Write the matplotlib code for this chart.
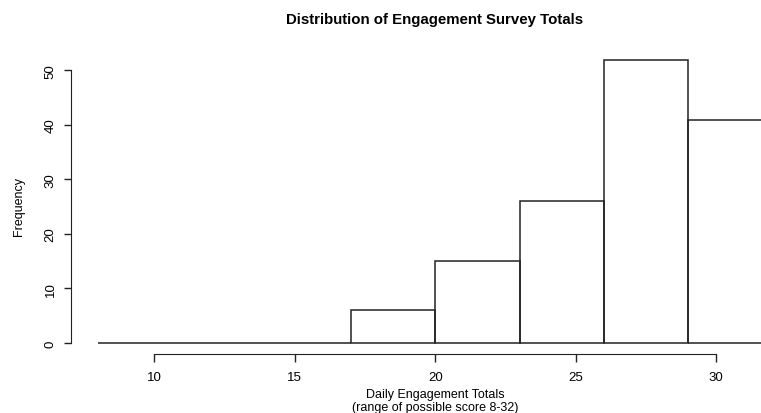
import matplotlib
matplotlib.use('Agg')
import matplotlib.pyplot as plt
import numpy as np

# histogram data (bin edges 8..32, width 3)
bin_edges = [8, 11, 14, 17, 20, 23, 26, 29, 32]
counts = [0, 0, 0, 6, 15, 26, 52, 41]
x_ticks = [10, 15, 20, 25, 30]
y_ticks = [0, 10, 20, 30, 40, 50]

plt.rcParams['font.family'] = ['Liberation Sans', 'DejaVu Sans']

W, H = 761, 414
fig = plt.figure(figsize=(W / 100, H / 100), dpi=100)

# axes box in pixels: left=70, right=761, top=50, bottom=355
ax = fig.add_axes([70.5 / W, 1 - 355 / H, (761 - 70.5) / W, (355 - 50) / H])

lefts = np.array(bin_edges[:-1])
widths = np.diff(bin_edges)
ax.bar(lefts, counts, width=widths, align='edge', fill=False,
       edgecolor='#222222', linewidth=1.1)

ax.set_xlim(7.01, 31.6)
ax.set_ylim(-2.02, 53.94)

for s in ['top', 'right']:
    ax.spines[s].set_visible(False)
ax.spines['left'].set_bounds(0, 50)
ax.spines['bottom'].set_bounds(10, 30)
ax.spines['left'].set_color('#222222')
ax.spines['bottom'].set_color('#222222')

ax.set_xticks(x_ticks)
ax.set_yticks(y_ticks)
ax.tick_params(axis='x', length=6, width=1, color='#222222', pad=6, labelsize=9.5)
ax.tick_params(axis='y', length=5, width=1, color='#222222', pad=5, labelsize=9.5)
for lab in ax.get_yticklabels():
    lab.set_rotation(90)
    lab.set_va('center')

fig.text(19 / W, 1 - 207 / H, 'Frequency', rotation=90, ha='center', va='center', fontsize=9)
fig.text(435 / W, 1 - 20 / H, 'Distribution of Engagement Survey Totals',
         ha='center', va='center', fontsize=10.8, fontweight='bold')
fig.text(435 / W, 1 - 395 / H, 'Daily Engagement Totals', ha='center', va='center', fontsize=9)
fig.text(435 / W, 1 - 408 / H, '(range of possible score 8-32)', ha='center', va='center', fontsize=9)

fig.savefig('out.png', dpi=100)
